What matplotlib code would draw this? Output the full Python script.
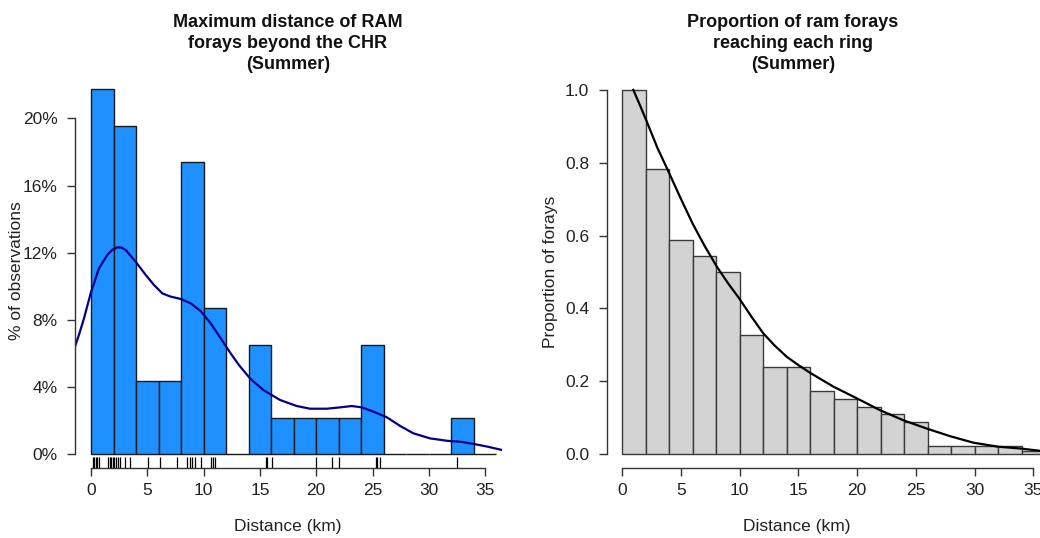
"""Two-panel summer foray figure: histogram of maximum foray distance with
density curve and rug (left), proportion of forays reaching each ring with
fitted decay curve (right). Styled after base-R graphics."""

import matplotlib

matplotlib.use("Agg")
import matplotlib.pyplot as plt
from matplotlib.transforms import blended_transform_factory

plt.rcParams["font.family"] = ["Liberation Sans", "DejaVu Sans"]

# --- data ----------------------------------------------------------------
# 2-km distance rings, left edges
RING_LEFT = [0, 2, 4, 6, 8, 10, 12, 14, 16, 18, 20, 22, 24, 26, 28, 30, 32, 34]
RING_WIDTH = 2

# left panel: % of observations per ring (n = 46)
PCT_OBS = [21.74, 19.57, 4.35, 4.35, 17.39, 8.70, 0.0, 6.52, 2.17,
           2.17, 2.17, 2.17, 6.52, 0.0, 0.0, 0.0, 2.17, 0.0]

# rug: distinct observed distances (km)
RUG_KM = [0.18, 0.30, 0.44, 0.56, 0.71, 1.54, 1.66, 1.81, 1.95, 2.07, 2.22,
          2.43, 2.60, 3.02, 3.49, 5.09, 6.16, 7.67, 8.55, 8.75, 9.0, 9.2,
          9.77, 10.66, 10.82, 11.0, 15.51, 15.66, 16.04, 19.95, 21.43, 22.02,
          25.28, 25.43, 25.67, 32.53]

# density curve, as %
DENS_KM = [-1.42, -1.0, -0.62, -0.03, 0.71, 1.45, 1.9, 2.34, 2.7, 3.08, 3.97,
           4.86, 5.6, 6.34, 7.08, 7.97, 8.85, 9.74, 10.63, 11.52, 12.4, 13.14,
           14.12, 15.31, 16.79, 18.27, 19.46, 20.94, 22.12, 23.16, 24.05,
           25.09, 26.27, 27.46, 28.64, 30.12, 31.6, 32.8, 33.98, 35.2, 36.5]
DENS_PCT = [6.40, 7.25, 8.09, 9.57, 11.07, 11.86, 12.18, 12.32, 12.30, 12.16,
            11.46, 10.67, 10.07, 9.57, 9.38, 9.24, 8.98, 8.52, 7.79, 6.89,
            6.0, 5.30, 4.51, 3.81, 3.22, 2.86, 2.70, 2.70, 2.78, 2.86, 2.78,
            2.52, 2.19, 1.67, 1.23, 0.93, 0.79, 0.73, 0.60, 0.44, 0.24]

# right panel: proportion of forays reaching each ring
PROP_RING = [1.0, 0.783, 0.587, 0.543, 0.5, 0.326, 0.239, 0.239, 0.174,
             0.152, 0.130, 0.109, 0.087, 0.022, 0.022, 0.022, 0.022, 0.008]

# fitted decay curve
FIT_KM = [0.94, 1.5, 2.02, 3.0, 3.84, 5.0, 6.0, 7.0, 8.04, 9.0, 9.94, 11.0,
          12.01, 13.0, 14.0, 15.0, 15.99, 17.97, 19.96, 21.9, 23.9, 25.9,
          27.9, 29.9, 32.0, 33.9, 35.5, 37.4]
FIT_PROP = [1.0, 0.958, 0.918, 0.84, 0.782, 0.70, 0.632, 0.572, 0.515, 0.469,
            0.428, 0.377, 0.331, 0.297, 0.267, 0.244, 0.223, 0.185, 0.153,
            0.121, 0.093, 0.070, 0.049, 0.031, 0.020, 0.015, 0.009, 0.005]

DIST_TICKS = [0, 5, 10, 15, 20, 25, 30, 35]
PCT_TICKS = [0, 4, 8, 12, 16, 20]
PROP_TICKS = [0.0, 0.2, 0.4, 0.6, 0.8, 1.0]

W, H = 1040, 538
AXIS_COL = "#333333"
FS = 12.5


def _px_rect(x0, y_top, x1, y_bottom):
    return [x0 / W, 1 - y_bottom / H, (x1 - x0) / W, (y_bottom - y_top) / H]


def _r_style(ax, xbounds, ybounds):
    """Base-R look: detached axis lines that only span the tick range."""
    ax.spines["top"].set_visible(False)
    ax.spines["right"].set_visible(False)
    for side in ("left", "bottom"):
        ax.spines[side].set_color(AXIS_COL)
        ax.spines[side].set_linewidth(1)
    ax.spines["bottom"].set_bounds(*xbounds)
    ax.spines["left"].set_bounds(*ybounds)
    ax.tick_params(axis="both", direction="out", length=5.5, width=1,
                   color=AXIS_COL, labelsize=FS, labelcolor="#222222")
    ax.tick_params(axis="x", pad=5)
    ax.tick_params(axis="y", pad=7)
    ax.patch.set_alpha(0)


fig = plt.figure(figsize=(W / 100, H / 100), dpi=100)

# --- left: histogram + density + rug -------------------------------------
ax1 = fig.add_axes(_px_rect(75, 75, 502, 468))
ax1.bar(RING_LEFT, PCT_OBS, width=RING_WIDTH, align="edge",
        color="#1E90FF", edgecolor="#1a1a1a", linewidth=1)
ax1.plot(DENS_KM, DENS_PCT, color="#00008B", lw=1.6)
rug_tf = blended_transform_factory(ax1.transData, ax1.transAxes)
ax1.vlines(RUG_KM, 0, 0.028, transform=rug_tf, color="black", lw=0.9)
ax1.set_xlim(-1.42, 36.5)
ax1.set_ylim(-0.834, 22.59)
ax1.set_xticks(DIST_TICKS, [str(t) for t in DIST_TICKS])
ax1.set_yticks(PCT_TICKS, [f"{t}%" for t in PCT_TICKS])
_r_style(ax1, (0, 35), (0, 20))

# --- right: proportion reaching each ring + fitted curve -----------------
ax2 = fig.add_axes(_px_rect(606.7, 75, 1062, 468))
ax2.bar(RING_LEFT, PROP_RING, width=RING_WIDTH, align="edge",
        color="#D3D3D3", edgecolor="#3a3a3a", linewidth=1)
ax2.plot(FIT_KM, FIT_PROP, color="black", lw=1.6)
ax2.set_xlim(-1.33, 37.44)
ax2.set_ylim(-0.0385, 1.041)
ax2.set_xticks(DIST_TICKS, [str(t) for t in DIST_TICKS])
ax2.set_yticks(PROP_TICKS, [f"{t:.1f}" for t in PROP_TICKS])
_r_style(ax2, (0, 35), (0, 1))

# --- titles and axis labels (placed in pixel coords like the original) ---
titles = [
    (288, ["Maximum distance of RAM", "forays beyond the CHR", "(Summer)"]),
    (793, ["Proportion of ram forays", "reaching each ring", "(Summer)"]),
]
for cx, lines in titles:
    for i, line in enumerate(lines):
        fig.text(cx / W, 1 - (27 + 21 * i) / H, line, ha="center",
                 va="baseline", fontsize=13, fontweight="bold",
                 color="#111111")

for cx in (288, 797):
    fig.text(cx / W, 1 - 527 / H, "Distance (km)", ha="center",
             va="center", fontsize=FS, color="#222222")
fig.text(17 / W, 1 - 271 / H, "% of observations", rotation=90,
         ha="center", va="center", fontsize=FS, color="#222222")
fig.text(550 / W, 1 - 272 / H, "Proportion of forays", rotation=90,
         ha="center", va="center", fontsize=FS, color="#222222")

fig.savefig("out.png", dpi=100)
